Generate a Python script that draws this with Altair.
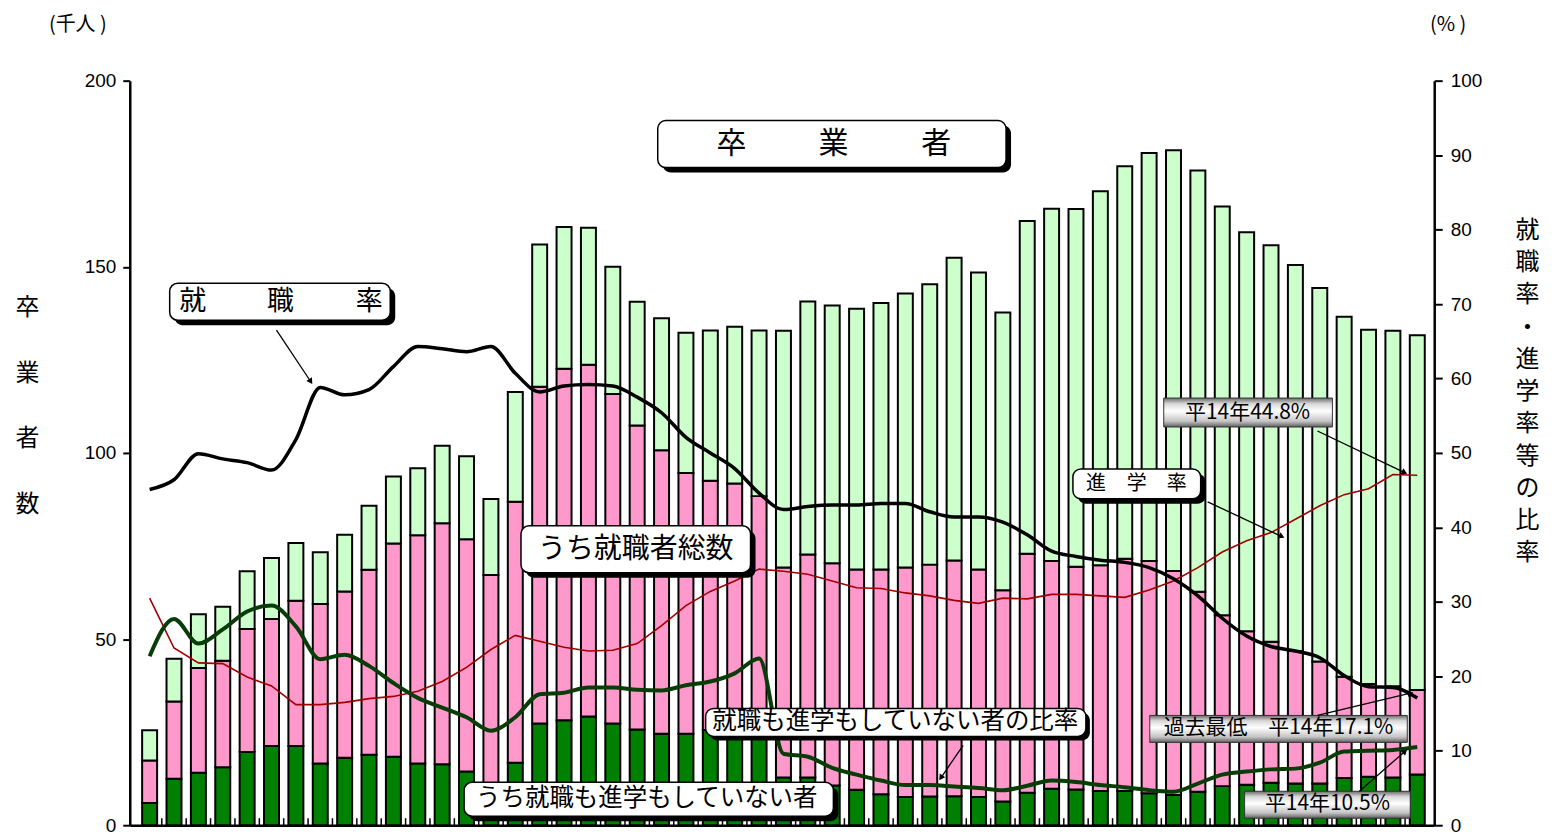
import math
import altair as alt
import pandas as pd

# ---------------- data ----------------
years = list(range(1950, 2003))  # 昭25 ... 平14

# graduates total (thousand persons)
total = [25.5, 44.7, 56.7, 58.7, 68.2, 71.8, 75.8, 73.3, 78.0, 85.8,
         93.7, 95.9, 101.9, 99.1, 87.6, 116.4, 156.0, 160.7, 160.5, 150.0,
         140.6, 136.2, 132.3, 132.9, 133.9, 132.9, 132.8, 140.7, 139.6, 138.7,
         140.3, 142.8, 145.3, 152.4, 148.5, 137.7, 162.3, 165.6, 165.5, 170.3,
         177.0, 180.6, 181.3, 175.9, 166.2, 159.3, 155.8, 150.5, 144.3, 136.6,
         133.1, 132.8, 131.6]
# employed (thousand persons)
employed = [11.4, 20.7, 28.1, 28.6, 33.0, 34.1, 39.0, 42.8, 44.7, 49.7,
            57.3, 61.3, 64.7, 62.4, 56.1, 70.1, 90.5, 94.4, 94.5, 88.5,
            81.7, 76.1, 70.0, 66.9, 64.5, 58.6, 56.4, 59.9, 59.7, 59.2,
            60.4, 61.6, 62.3, 63.3, 61.1, 56.7, 64.2, 61.2, 59.8, 60.6,
            62.4, 62.4, 60.2, 53.7, 45.9, 41.2, 37.9, 35.6, 32.8, 27.2,
            24.9, 24.5, 22.7]
# neither employed nor advancing (thousand persons)
neither = [6.0, 12.5, 14.1, 15.6, 19.7, 21.3, 21.3, 16.6, 18.1, 18.9,
           18.4, 16.6, 16.4, 14.4, 11.1, 16.8, 27.3, 28.2, 29.2, 27.3,
           25.7, 24.6, 24.6, 25.6, 27.3, 29.8, 12.8, 12.8, 10.7, 9.5,
           8.3, 7.6, 7.7, 7.8, 7.6, 6.4, 8.7, 9.8, 9.6, 9.2,
           9.2, 8.6, 8.1, 9.0, 10.5, 10.9, 11.4, 11.2, 11.2, 12.7,
           13.0, 12.8, 13.6]
# rates (%)
rate_emp = [45.1, 46.4, 49.9, 49.2, 48.7, 47.7, 51.8, 58.8, 57.8, 58.5,
            61.6, 64.3, 64.0, 63.6, 64.3, 60.7, 58.2, 59.0, 59.2, 59.0,
            57.5, 55.4, 52.1, 50.0, 47.9, 44.6, 42.4, 42.8, 43.0, 43.0,
            43.2, 43.2, 42.1, 41.4, 41.4, 40.7, 39.0, 36.8, 36.1, 35.6,
            35.3, 34.6, 33.1, 30.8, 27.8, 25.4, 24.0, 23.4, 22.5, 20.1,
            18.6, 18.5, 17.1]
rate_adv = [30.5, 23.8, 21.8, 21.7, 19.9, 18.7, 16.2, 16.2, 16.5, 17.0,
            17.3, 18.0, 19.3, 21.2, 23.6, 25.5, 24.7, 23.9, 23.4, 23.5,
            24.4, 26.8, 29.5, 31.4, 32.8, 34.4, 34.1, 33.7, 32.8, 31.9,
            31.8, 31.2, 30.8, 30.2, 29.8, 30.5, 30.4, 31.0, 31.0, 30.8,
            30.6, 31.6, 32.8, 34.6, 36.7, 38.2, 39.3, 41.1, 42.9, 44.4,
            45.2, 47.1, 47.0]
rate_nei = [22.7, 27.7, 24.4, 26.3, 28.7, 29.5, 26.7, 22.3, 22.9, 21.4,
            19.1, 17.1, 15.8, 14.5, 12.7, 14.5, 17.6, 17.8, 18.5, 18.5,
            18.2, 18.1, 18.8, 19.3, 20.4, 22.4, 9.6, 9.2, 7.7, 6.8,
            6.0, 5.4, 5.4, 5.2, 5.0, 4.7, 5.3, 6.0, 5.8, 5.4,
            5.1, 4.7, 4.5, 5.6, 6.8, 7.2, 7.5, 7.6, 8.4, 9.9,
            10.0, 10.1, 10.5]

left_ticks = [0, 50, 100, 150, 200]
right_ticks = list(range(0, 101, 10))

# ---------------- tables ----------------
n = len(years)
rows = []
for i in range(n):
    rows.append(dict(i=i, seg="neither", v=neither[i], o=0))
    rows.append(dict(i=i, seg="employed", v=employed[i], o=1))
    rows.append(dict(i=i, seg="other", v=round(total[i] - neither[i] - employed[i], 1), o=2))
bars_df = pd.DataFrame(rows)
lines_df = pd.DataFrame(dict(i=list(range(n)), emp=rate_emp, adv=rate_adv, nei=rate_nei))
ticks_df = pd.DataFrame(dict(b=[i + 0.5 for i in range(n - 1)]))
one = pd.DataFrame(dict(k=[0]))

# ---------------- layout ----------------
W, H = 1307, 746
OX, OY = 130, 80          # plot origin on the page
JP = "Noto Sans CJK JP"
NUM = "Liberation Sans"

XS = alt.Scale(domain=[-0.61, 52.49], nice=False, zero=False)
XAX = alt.Axis(title=None, labels=False, ticks=False, grid=False, domain=True,
               domainColor="black", domainWidth=2.5)
LS = alt.Scale(domain=[0, 200], nice=False, zero=True)
RS = alt.Scale(domain=[0, 100], nice=False, zero=True)

left_axis = alt.Axis(values=left_ticks, grid=False, tickSize=7, tickWidth=2, tickColor="black",
                     domainColor="black", domainWidth=2.5, labelFont=NUM, labelFontSize=19,
                     labelColor="black", labelPadding=7,
                     title=["卒", "業", "者", "数"], titleAngle=0, titleX=-103, titleY=227,
                     titleAlign="center", titleBaseline="middle", titleLineHeight=66,
                     titleFont=JP, titleFontSize=24, titleFontWeight="normal", titleColor="black")
right_axis = alt.Axis(orient="right", values=right_ticks, grid=False, tickSize=8, tickWidth=2,
                      tickColor="black", domainColor="black", domainWidth=2.5, labelFont=NUM,
                      labelFontSize=19, labelColor="black", labelPadding=8,
                      title=list("就職率・進学率等の比率"), titleAngle=0, titleX=93, titleY=150,
                      titleAlign="center", titleBaseline="middle", titleLineHeight=32.3,
                      titleFont=JP, titleFontSize=24, titleFontWeight="normal", titleColor="black")

bars = alt.Chart(bars_df).mark_bar(size=15, stroke="black", strokeWidth=2).encode(
    x=alt.X("i:Q", scale=XS, axis=XAX),
    y=alt.Y("v:Q", stack="zero", scale=LS, axis=left_axis),
    color=alt.Color("seg:N", legend=None,
                    scale=alt.Scale(domain=["neither", "employed", "other"],
                                    range=["#008000", "#FF99CC", "#CCFFCC"])),
    order=alt.Order("o:Q"),
)

xticks = alt.Chart(ticks_df).mark_tick(orient="vertical", size=7, thickness=1.5,
                                        color="black", yOffset=-3.5, opacity=1).encode(
    x=alt.X("b:Q", scale=XS, axis=XAX),
    y=alt.YDatum(0, scale=LS, axis=None),
)

base_l = alt.Chart(lines_df)
line_emp = base_l.mark_line(color="black", strokeWidth=3.5, interpolate="monotone").encode(
    x=alt.X("i:Q", scale=XS, axis=XAX), y=alt.Y("emp:Q", scale=RS, axis=right_axis))
line_adv = base_l.mark_line(color="#A00000", strokeWidth=1.6).encode(
    x=alt.X("i:Q", scale=XS, axis=XAX), y=alt.Y("adv:Q", scale=RS, axis=None))
line_nei = base_l.mark_line(color="#083d08", strokeWidth=4, interpolate="monotone").encode(
    x=alt.X("i:Q", scale=XS, axis=XAX), y=alt.Y("nei:Q", scale=RS, axis=None))


# ---------------- annotation helpers (page pixel positions) ----------------
def rect(x1, y1, x2, y2, **kw):
    return alt.Chart(one).mark_rect(**kw).encode(
        x=alt.value(x1 - OX), x2=alt.value(x2 - OX),
        y=alt.value(y1 - OY), y2=alt.value(y2 - OY))


def wbox(x1, y1, x2, y2, r=8, sh=5):
    return [rect(x1 + sh, y1 + sh, x2 + sh, y2 + sh, color="black", cornerRadius=r),
            rect(x1, y1, x2, y2, fill="white", stroke="black", strokeWidth=1.5, cornerRadius=r)]


GRAD = alt.LinearGradient(
    gradient="linear", x1=0, x2=0, y1=0, y2=1,
    stops=[alt.GradientStop(color="#6a6a6a", offset=0),
           alt.GradientStop(color="#d8d8d8", offset=0.2),
           alt.GradientStop(color="#ffffff", offset=0.45),
           alt.GradientStop(color="#c4c4c4", offset=0.8),
           alt.GradientStop(color="#5e5e5e", offset=1)])


def gbox(x1, y1, x2, y2):
    return [rect(x1, y1, x2, y2, fill=GRAD, stroke="#333333", strokeWidth=1)]


def txt(s, x, y, size, font=JP, align="center"):
    return alt.Chart(one).mark_text(text=s, font=font, fontSize=size, align=align,
                                    baseline="middle", color="black").encode(
        x=alt.value(x - OX), y=alt.value(y - OY))


def arrow(x1, y1, x2, y2):
    L = math.hypot(x2 - x1, y2 - y1)
    ux, uy = (x2 - x1) / L, (y2 - y1) / L
    ang = math.degrees(math.atan2(x2 - x1, -(y2 - y1))) % 360
    ln = alt.Chart(one).mark_rule(color="black", strokeWidth=1.3).encode(
        x=alt.value(x1 - OX), y=alt.value(y1 - OY),
        x2=alt.value(x2 - OX - ux * 4), y2=alt.value(y2 - OY - uy * 4))
    hd = alt.Chart(one).mark_point(shape="triangle-up", filled=True, size=45, angle=ang,
                                   color="black", opacity=1).encode(
        x=alt.value(x2 - OX - ux * 3), y=alt.value(y2 - OY - uy * 3))
    return [ln, hd]


ann = []
# 卒業者
ann += wbox(659, 120, 1008, 167)
ann += [txt("卒", 733, 143, 30), txt("業", 835, 143, 30), txt("者", 938, 143, 30)]
# 就職率
ann += wbox(170, 283, 391, 320)
ann += [txt("就", 193, 302, 27), txt("職", 281, 302, 27), txt("率", 370, 302, 27)]
ann += arrow(277, 330, 313, 384)
# うち就職者総数
ann += wbox(522, 526, 752, 573)
ann += [txt("うち就職者総数", 637, 550, 28)]
# 進学率
ann += wbox(1075, 469, 1203, 499)
ann += [txt("進", 1098, 484, 20), txt("学", 1139, 484, 20), txt("率", 1179, 484, 20)]
ann += arrow(1210, 502, 1287, 538)
# 平14年44.8%
ann += gbox(1166, 398, 1335, 427)
ann += [txt("平14年44.8%", 1250, 413, 21)]
ann += arrow(1320, 431, 1410, 474)
# 就職も進学もしていない者の比率
ann += wbox(707, 709, 1088, 737, sh=4)
ann += [txt("就職も進学もしていない者の比率", 897, 723, 24.5)]
ann += arrow(965, 746, 941, 781)
# うち就職も進学もしていない者
ann += wbox(465, 783, 835, 817)
ann += [txt("うち就職も進学もしていない者", 648, 800, 24.5)]
# 過去最低 平14年17.1%
ann += gbox(1152, 716, 1410, 743)
ann += [txt("過去最低　平14年17.1%", 1281, 729, 21)]
ann += arrow(1320, 716, 1416, 693)
# 平14年10.5%
ann += gbox(1247, 792, 1413, 819)
ann += [txt("平14年10.5%", 1330, 805, 21)]
ann += arrow(1362, 792, 1410, 750)
# units
ann += [txt("(千人 )", 78, 24, 20), txt("(% )", 1451, 24, 20)]

chart = alt.layer(bars, xticks, line_adv, line_emp, line_nei, *ann).resolve_scale(
    y="independent"
).properties(
    width=W, height=H,
    autosize=alt.AutoSizeParams(type="none"),
    padding={"left": 122, "top": 72, "right": 110, "bottom": 12},
    background="white",
).configure_view(stroke=None)

chart.save("out.html", embed_options={"renderer": "svg", "actions": False})
